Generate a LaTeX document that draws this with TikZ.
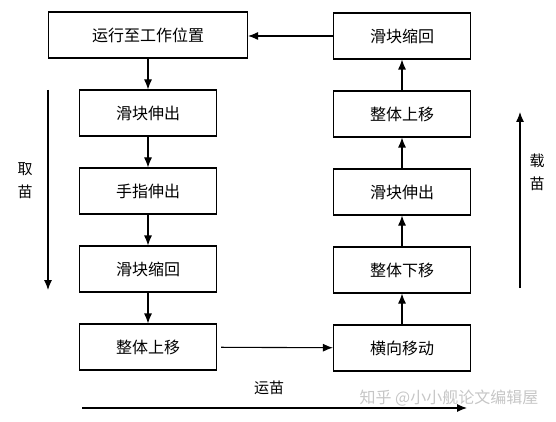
\documentclass[tikz,border=0pt]{standalone}
\usepackage{fontspec}
\setmainfont{Noto Sans CJK SC}
\usetikzlibrary{positioning,arrows.meta}
\tikzset{
	block/.style  = {draw, line width=1.1pt, fill=white, rectangle, minimum height=46pt, minimum width=137pt, font=\fontsize{16}{18}\selectfont, node distance=78pt},
	wide/.style   = {minimum width=199pt},
	hidden/.style = {coordinate},
	side/.style   = {align=center, font=\fontsize{15}{23}\selectfont},
	link/.style   = {->, line width=1.1pt},
}

\begin{document}
\begin{tikzpicture}[auto, >={Latex[length=10pt,width=8pt]}, x=1pt, y=1pt]
		\useasboundingbox (0,0) rectangle (556,-422);

		% Draw the left column (taking)
		\draw
			node[block, wide] at (148,-35) (start) {运行至工作位置}
			node[block, below of = start    ] (slideout) {滑块伸出}
			node[block, below of = slideout ] (fingerout) {手指伸出}
			node[block, below of = fingerout] (slideback) {滑块缩回}
			node[block, below of = slideback] (liftup) {整体上移};

		% Draw the right column (loading)
		\draw
			node[block] at (402,-348) (traverse) {横向移动}
			node[block, above of = traverse ] (lower) {整体下移}
			node[block, above of = lower    ] (rslideout) {滑块伸出}
			node[block, above of = rslideout] (rliftup) {整体上移}
			node[block, above of = rliftup  ] (rslideback) {滑块缩回};

		% Connect everything together
		\draw[link] (start) -- (slideout);
		\draw[link] (slideout) -- (fingerout);
		\draw[link] (fingerout) -- (slideback);
		\draw[link] (slideback) -- (liftup);
		\draw[link, shorten <=4pt] (liftup) -- (traverse);
		\draw[link] (traverse) -- (lower);
		\draw[link] (lower) -- (rslideout);
		\draw[link] (rslideout) -- (rliftup);
		\draw[link] (rliftup) -- (rslideback);
		\draw[link] (rslideback.west) -- (rslideback.west -| start.east);

		% Side arrows
		\draw
			node[hidden] at (48,-90)   (takefrom) {}
			node[hidden] at (48,-290)  (taketo) {}
			node[hidden] at (520,-288) (loadfrom) {}
			node[hidden] at (520,-112) (loadto) {}
			node[hidden] at (82,-408)  (movefrom) {}
			node[hidden] at (467,-408) (moveto) {};
		\draw[link] (takefrom) -- (taketo);
		\draw[link] (loadfrom) -- (loadto);
		\draw[link] (movefrom) -- (moveto);

		\node[side] (take) at (25,-181) {取\\苗};
		\node[side] (load) at (537,-172) {载\\苗};
		\node[side] (move) at (269,-388) {运苗};

		% Watermark
		\node[text=gray!45, font=\fontsize{16}{18}\selectfont] (mark) at (449,-398) {知乎 @小小舰论文编辑屋};
	\end{tikzpicture}
\end{document}
